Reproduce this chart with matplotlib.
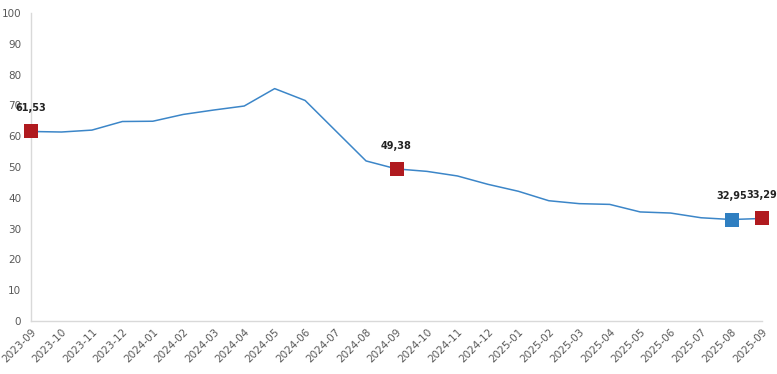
import matplotlib
matplotlib.use("Agg")
import matplotlib.pyplot as plt

months = ["2023-09","2023-10","2023-11","2023-12","2024-01","2024-02","2024-03","2024-04",
          "2024-05","2024-06","2024-07","2024-08","2024-09","2024-10","2024-11","2024-12",
          "2025-01","2025-02","2025-03","2025-04","2025-05","2025-06","2025-07","2025-08","2025-09"]
values = [61.53, 61.36, 61.98, 64.77, 64.86, 67.07, 68.50, 69.80, 75.45, 71.60, 61.78, 51.97,
          49.38, 48.58, 47.09, 44.38, 42.12, 39.05, 38.10, 37.86, 35.41, 35.05, 33.52, 32.95, 33.29]
red_idx = [0, 12, 24]
blue_idx = [23]
yticks = [0, 10, 20, 30, 40, 50, 60, 70, 80, 90, 100]

fig = plt.figure(figsize=(7.77, 3.74), dpi=100)
ax = fig.add_axes([31/777, 53/374, (762-31)/777, (321-13)/374])
x = list(range(len(months)))
ax.plot(x, values, color="#3C86C8", lw=1.1, zorder=2, clip_on=False)
ax.scatter([x[i] for i in red_idx], [values[i] for i in red_idx], marker="s", s=110,
           color="#B01A1F", zorder=3, clip_on=False, linewidths=0)
ax.scatter([x[i] for i in blue_idx], [values[i] for i in blue_idx], marker="s", s=110,
           color="#2F7FC1", zorder=3, clip_on=False, linewidths=0)
for i in red_idx + blue_idx:
    ax.annotate(f"{values[i]:.2f}".replace(".", ","), (x[i], values[i]), xytext=(0, 13),
                textcoords="offset points", ha="center", va="bottom", fontsize=7,
                fontweight="bold", color="#222222", annotation_clip=False)

ax.set_xlim(0, len(months) - 1)
ax.set_ylim(0, 100)
ax.set_yticks(yticks)
ax.set_xticks(x)
ax.set_xticklabels(months, rotation=45, ha="right", rotation_mode="anchor")
ax.tick_params(axis="both", length=0, labelsize=7.5, colors="#595959")
ax.tick_params(axis="y", pad=7)
ax.tick_params(axis="x", pad=4)
for s in ["top", "right"]:
    ax.spines[s].set_visible(False)
for s in ["left", "bottom"]:
    ax.spines[s].set_color("#D9D9D9")
    ax.spines[s].set_linewidth(1)

fig.savefig("out.png", dpi=100)
